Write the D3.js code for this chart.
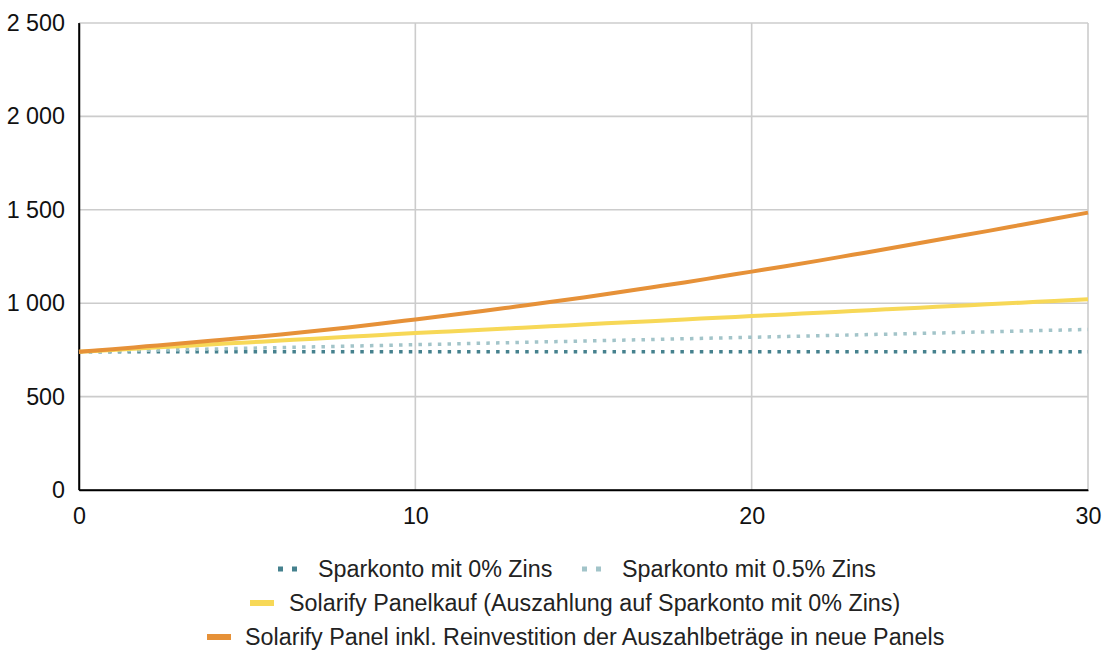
<!DOCTYPE html>
<html><head><meta charset="utf-8">
<script src="https://cdn.jsdelivr.net/npm/d3@7"></script>
<style>body{margin:0;background:#fff;font-family:"Liberation Sans",Arial,sans-serif;}</style>
</head><body><svg id="c" width="1107" height="651"></svg>
<script>
const years = d3.range(0, 31);
const spar0 = [740,740,740,740,740,740,740,740,740,740,740,740,740,740,740,740,740,740,740,740,740,740,740,740,740,740,740,740,740,740,740];
const spar05 = [740,743.7,747.4,751.2,754.9,758.7,762.5,766.3,770.1,774,777.9,781.8,785.7,789.6,793.6,797.5,801.5,805.6,809.6,813.7,817.6,821.8,825.9,830,834.2,838.3,842.5,846.8,851,855.3,859.4];
const panelkauf = [740,750,760,770,780,790,800,810,820,830,840,849,858,867,876,886,895,904,913,922,931,940,949,958,967,976,985,994,1003,1012,1021];
const reinvest = [740,754,769,784,800,816,833,851,870,891,913,935,958,982,1006,1031,1057,1084,1111,1140,1169,1198,1228,1259,1290,1322,1354,1386,1419,1452,1485];
const seriesNames = ["Sparkonto mit 0% Zins","Sparkonto mit 0.5% Zins","Solarify Panelkauf (Auszahlung auf Sparkonto mit 0% Zins)","Solarify Panel inkl. Reinvestition der Auszahlbeträge in neue Panels"];
const xTicks = [0,10,20,30];
const yTicks = [0,500,1000,1500,2000,2500];

const series = [
  {name: seriesNames[0], values: spar0, color: "#45818e", dash: "3.5,6.2", w: 3.5},
  {name: seriesNames[1], values: spar05, color: "#a2c4c9", dash: "3.5,6.2", w: 3.5},
  {name: seriesNames[2], values: panelkauf, color: "#f7d857", dash: null, w: 4},
  {name: seriesNames[3], values: reinvest, color: "#e69138", dash: null, w: 4}
];

const svg = d3.select("#c");
const L = 79, R = 1088, T = 23, B = 490;
const FS = 23.3;
const x = d3.scaleLinear().domain([0,30]).range([L,R]);
const y = d3.scaleLinear().domain([0,2500]).range([B,T]);
const loc = d3.formatLocale({decimal:",", thousands:"\u00a0", grouping:[3], currency:["",""]});
const fmt = loc.format(",");

// gridlines
svg.append("g").selectAll("line").data(yTicks.filter(d=>d>0)).join("line")
  .attr("x1",L).attr("x2",R).attr("y1",d=>y(d)).attr("y2",d=>y(d))
  .attr("stroke","#cccccc").attr("stroke-width",1.6);
svg.append("g").selectAll("line").data(xTicks.filter(d=>d>0)).join("line")
  .attr("y1",T).attr("y2",B).attr("x1",d=>x(d)).attr("x2",d=>x(d))
  .attr("stroke","#cccccc").attr("stroke-width",1.6);

// axes
const yAxis = svg.append("g").attr("transform",`translate(${L},0)`)
  .call(d3.axisLeft(y).tickValues(yTicks).tickFormat(fmt).tickSize(0).tickPadding(14));
const xAxis = svg.append("g").attr("transform",`translate(0,${B})`)
  .call(d3.axisBottom(x).tickValues(xTicks).tickSize(0).tickPadding(17));
[yAxis,xAxis].forEach(a=>{
  a.select(".domain").attr("stroke","#000").attr("stroke-width",1.5);
  a.selectAll("text").attr("font-family","Liberation Sans, Arial, sans-serif").attr("font-size",FS).attr("fill","#111");
});
svg.append("line").attr("x1",L).attr("x2",L).attr("y1",T).attr("y2",B).attr("stroke","#000").attr("stroke-width",1.5);
svg.append("line").attr("x1",L).attr("x2",R).attr("y1",B).attr("y2",B).attr("stroke","#000").attr("stroke-width",1.5);

// lines
const line = d3.line().x((d,i)=>x(years[i])).y(d=>y(d)).curve(d3.curveMonotoneX);
series.forEach(s=>{
  svg.append("path").datum(s.values).attr("d",line).attr("fill","none")
    .attr("stroke",s.color).attr("stroke-width",s.w)
    .attr("stroke-dasharray",s.dash).attr("stroke-linecap","butt");
});

// legend
const leg = [
  {s: series[0], mx: 278, tx: 318, ty: 569},
  {s: series[1], mx: 582, tx: 622, ty: 569},
  {s: series[2], mx: 250, tx: 289, ty: 603},
  {s: series[3], mx: 207, tx: 245, ty: 637}
];
leg.forEach(l=>{
  const g = svg.append("g");
  g.append("line").attr("x1",l.mx).attr("x2",l.mx+24).attr("y1",l.ty).attr("y2",l.ty)
    .attr("stroke",l.s.color).attr("stroke-width",l.s.dash?5:6)
    .attr("stroke-dasharray",l.s.dash?"5,9":null);
  g.append("text").attr("x",l.tx).attr("y",l.ty).attr("dy","0.35em")
    .attr("font-size",FS).attr("fill","#222").text(l.s.name);
});
</script></body></html>
